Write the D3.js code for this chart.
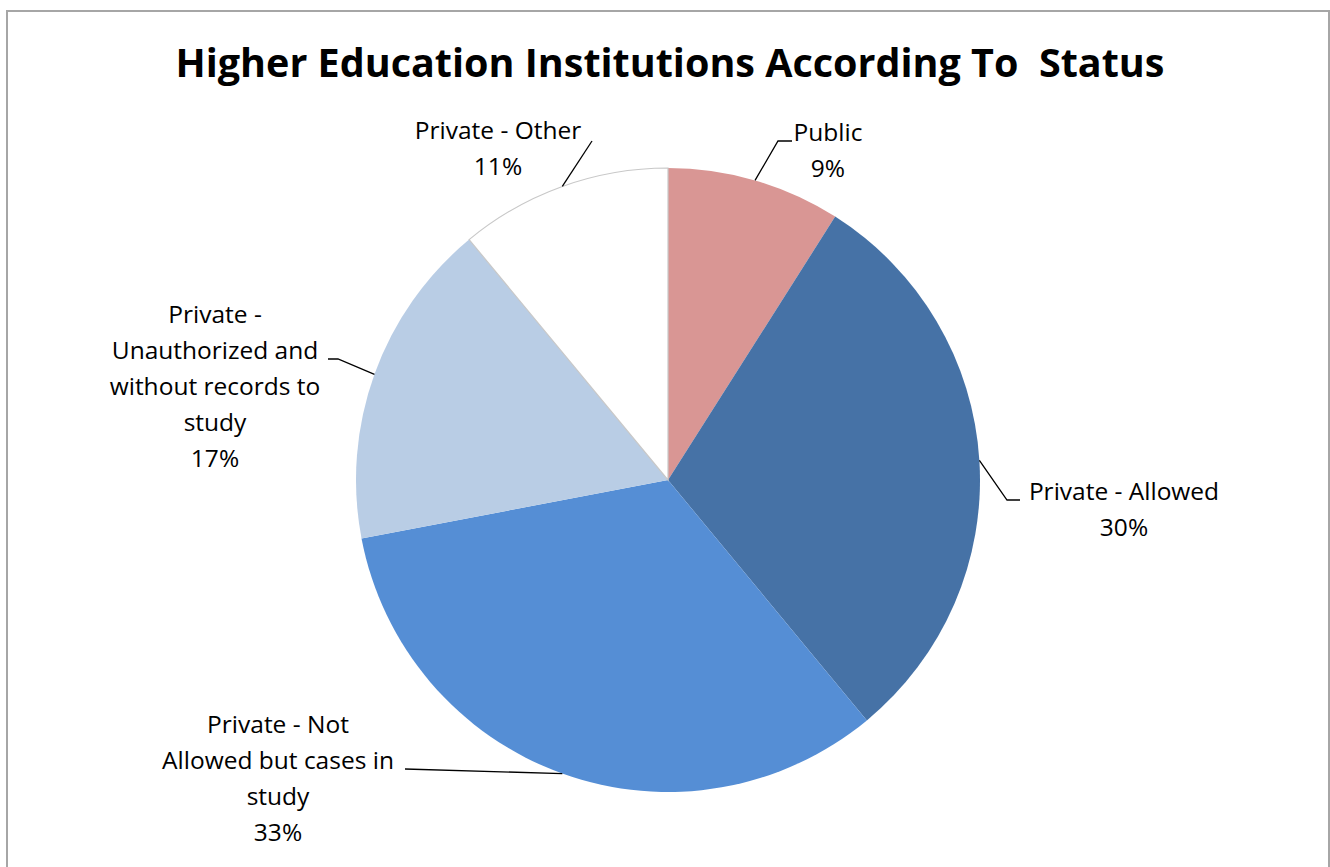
<!DOCTYPE html>
<html>
<head>
<meta charset="utf-8">
<script src="https://cdn.jsdelivr.net/npm/d3@7"></script>
<style>
  body { margin: 0; background: #fff; }
  text { font-family: "Open Sans", Lato, sans-serif; fill: #000; }
</style>
</head>
<body>
<div id="container"></div>
<script>
// data
var categories = ["Public", "Private - Allowed", "Private - Not Allowed but cases in study",
  "Private - Unauthorized and without records to study", "Private - Other"];
var values = [9, 30, 33, 17, 11];
var labelLines = [
  ["Public", "9%"],
  ["Private - Allowed", "30%"],
  ["Private - Not", "Allowed but cases in", "study", "33%"],
  ["Private -", "Unauthorized and", "without records to", "study", "17%"],
  ["Private - Other", "11%"]
];
var colors = ["#d99694", "#4672a6", "#558ed5", "#b9cde5", "#ffffff"];

// label layout (center x, first baseline, leader elbow, leader end)
var labelLayout = [
  { x: 828, y: 141, elbow: [778, 141], end: [792, 141] },
  { x: 1124, y: 500, elbow: [1007, 500], end: [1020, 500] },
  { x: 278, y: 733, elbow: null, end: [405, 769] },
  { x: 215, y: 323, elbow: [338, 359], end: [328, 359] },
  { x: 498, y: 139, elbow: null, end: [592, 141] }
];

var W = 1330, H = 867;
var cx = 668, cy = 480, R = 312;
var lineH = 36;

var svg = d3.select("#container").append("svg")
  .attr("width", W).attr("height", H);

// frame
svg.append("rect")
  .attr("x", 7).attr("y", 11)
  .attr("width", 1322).attr("height", H + 20)
  .attr("fill", "#fff")
  .attr("stroke", "#a6a6a6").attr("stroke-width", 2);

// title
svg.append("text")
  .attr("x", 670).attr("y", 77)
  .attr("text-anchor", "middle")
  .attr("xml:space", "preserve")
  .style("font-size", "39.5px").style("font-weight", "bold")
  .text("Higher Education Institutions According To  Status");

var pie = d3.pie().sort(null).value(function(d) { return d; });
var arcs = pie(values);
var arc = d3.arc().innerRadius(0).outerRadius(R);

var g = svg.append("g").attr("transform", "translate(" + cx + "," + cy + ")");
g.selectAll("path")
  .data(arcs)
  .enter().append("path")
  .attr("d", arc)
  .attr("fill", function(d, i) { return colors[i]; })
  .attr("stroke", function(d, i) { return i == 4 ? "#c8c8c8" : "none"; })
  .attr("stroke-width", 1.2);

// leader lines
arcs.forEach(function(d, i) {
  var mid = (d.startAngle + d.endAngle) / 2;
  var px = cx + R * Math.sin(mid), py = cy - R * Math.cos(mid);
  var L = labelLayout[i];
  var pts = [[px, py]];
  if (L.elbow) pts.push(L.elbow);
  pts.push(L.end);
  svg.append("path")
    .attr("d", d3.line()(pts))
    .attr("fill", "none")
    .attr("stroke", "#000")
    .attr("stroke-width", 1.3);
});

// labels
labelLines.forEach(function(lines, i) {
  var L = labelLayout[i];
  var t = svg.append("text")
    .attr("text-anchor", "middle")
    .style("font-size", "24.5px");
  lines.forEach(function(s, k) {
    t.append("tspan").attr("x", L.x).attr("y", L.y + k * lineH).text(s);
  });
});
</script>
</body>
</html>
